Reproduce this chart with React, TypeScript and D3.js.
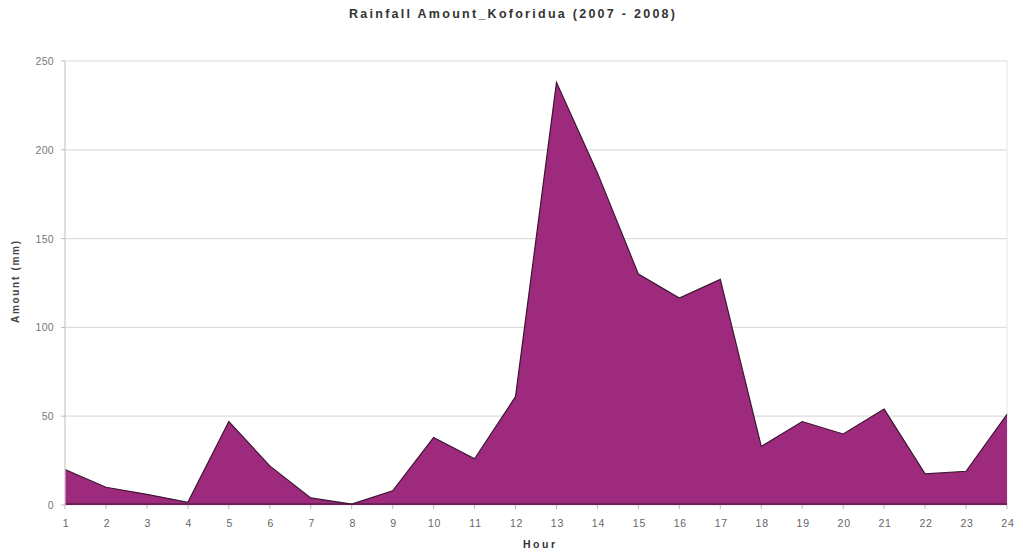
import React from "react";
import * as d3 from "d3";

const hours: number[] = Array.from({ length: 24 }, (_, i) => i + 1);
const amounts: number[] = [20, 10, 6, 1.5, 47, 22, 4, 0.5, 8, 38, 26, 61, 238, 187, 130, 116.5, 127, 33, 47, 40, 54, 17.5, 19, 51];
const yTicks: number[] = [0, 50, 100, 150, 200, 250];
const title = "Rainfall Amount_Koforidua (2007 - 2008)";
const xLabel = "Hour";
const yLabel = "Amount (mm)";

export default function App() {
  const W = 1023, H = 554;
  const left = 65, right = 1007, top = 61, bottom = 505;
  const x = d3.scaleLinear().domain([1, 24]).range([left, right]);
  const y = d3.scaleLinear().domain([0, 250]).range([bottom, top]);
  const data = hours.map((h, i) => ({ h, v: amounts[i] }));
  const area = d3.area<{ h: number; v: number }>().x(d => x(d.h)).y0(y(0)).y1(d => y(d.v));
  const line = d3.line<{ h: number; v: number }>().x(d => x(d.h)).y(d => y(d.v));
  const font = "Arial, 'Liberation Sans', sans-serif";
  return (
    <svg width={W} height={H} style={{ position: "absolute", left: 0, top: 0, background: "#fff" }}>
      <rect x={0} y={0} width={W} height={H} fill="#fff" />
      <text x={349} y={18} textLength={326} lengthAdjust="spacing" fontFamily={font} fontWeight="bold" fontSize={12.5} fill="#333">{title}</text>
      {yTicks.map(t => (
        <g key={t}>
          <line x1={left} x2={right} y1={y(t)} y2={y(t)} stroke="#dcdcdc" strokeWidth={1.2} />
          <line x1={left - 4} x2={left} y1={y(t)} y2={y(t)} stroke="#bbb" />
          <text x={left - 11} y={y(t) + 4} textAnchor="end" fontFamily={font} fontSize={10.5} letterSpacing={0.3} fill="#777">{t}</text>
        </g>
      ))}
      <line x1={right} x2={right} y1={top} y2={bottom} stroke="#e4e4e4" />
      <path d={area(data) || ""} fill="#9E2A7D" />
      <path d={line(data) || ""} fill="none" stroke="#3d1533" strokeWidth={1.2} />
      <line x1={left} x2={right} y1={bottom - 1} y2={bottom - 1} stroke="#3d1533" strokeWidth={1.2} />
      <line x1={left} x2={left} y1={top} y2={bottom} stroke="#c8c8c8" strokeWidth={1.2} />
      {hours.map(h => (
        <g key={h}>
          <line x1={x(h)} x2={x(h)} y1={bottom} y2={bottom + 4} stroke="#bbb" />
          <text x={x(h) + 1} y={bottom + 22} textAnchor="middle" fontFamily={font} fontSize={10.5} letterSpacing={0.8} fill="#666">{h}</text>
        </g>
      ))}
      <text x={523} y={548} textLength={32} lengthAdjust="spacing" fontFamily={font} fontWeight="bold" fontSize={10.5} fill="#333">{xLabel}</text>
      <text transform={`translate(19,323) rotate(-90)`} textLength={82} lengthAdjust="spacing" fontFamily={font} fontWeight="bold" fontSize={10} fill="#444">{yLabel}</text>
    </svg>
  );
}
